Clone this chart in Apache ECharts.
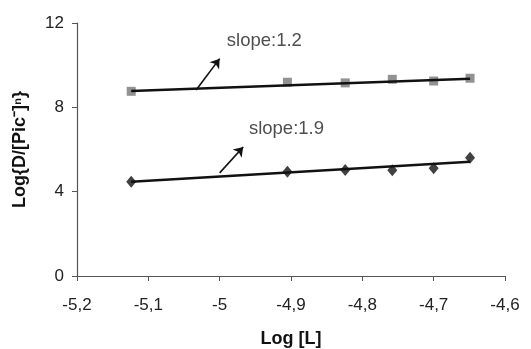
<!DOCTYPE html>
<html>
<head>
<meta charset="utf-8">
<script src="https://cdn.jsdelivr.net/npm/echarts@6/dist/echarts.min.js"></script>
<style>
  html, body { margin: 0; padding: 0; background: #fff; }
  #chart { width: 531px; height: 349px; }
</style>
</head>
<body>
<div id="chart"></div>
<script>
const logL = [-5.124, -4.905, -4.824, -4.758, -4.700, -4.649];
const squareValues = [8.76, 9.19, 9.16, 9.33, 9.25, 9.38];
const diamondValues = [4.47, 4.95, 5.03, 5.02, 5.11, 5.61];

const trendX = [-5.124, -4.649];
const trendTop = [8.78, 9.35];
const trendBottom = [4.47, 5.42];

// annotation arrows: [x0, y0, x1, y1]
const arrowTop = [-5.033, 8.82, -5.0, 10.31];
const arrowBottom = [-5.0, 4.89, -4.967, 6.12];
const slopeLabels = ["slope:1.2", "slope:1.9"];
const slopeLabelPos = [[-4.99, 11.15], [-4.959, 6.97]];

const pairs = (xs, ys) => xs.map((x, i) => [x, ys[i]]);
const fmtX = (v) => String(Math.round(v * 10) / 10).replace(".", ",");
const font = "Liberation Sans, Arial, sans-serif";

const chart = echarts.init(document.getElementById("chart"));

chart.setOption({
  backgroundColor: "#fff",
  animation: false,
  grid: { left: 77, right: 26, top: 23, bottom: 73, outerBoundsMode: "none", containLabel: false },
  xAxis: {
    type: "value",
    min: -5.2,
    max: -4.6,
    interval: 0.1,
    name: "Log [L]",
    nameLocation: "middle",
    nameGap: 54,
    nameTextStyle: { fontFamily: font, fontSize: 18, fontWeight: "bold", color: "#111" },
    axisLine: { onZero: false, lineStyle: { color: "#555", width: 1.2 } },
    axisTick: { show: true, length: 5, lineStyle: { color: "#555" } },
    axisLabel: { fontFamily: font, fontSize: 17, color: "#222", margin: 21, formatter: fmtX },
    splitLine: { show: false }
  },
  yAxis: {
    type: "value",
    min: 0,
    max: 12,
    interval: 4,
    name: "Log{D/[Pic\u207B]\u207F}",
    nameLocation: "middle",
    nameGap: 48,
    nameRotate: 90,
    nameTextStyle: { fontFamily: font, fontSize: 18, fontWeight: "bold", color: "#111" },
    axisLine: { show: true, lineStyle: { color: "#555", width: 1.2 } },
    axisTick: { show: true, length: 5, lineStyle: { color: "#555" } },
    axisLabel: { fontFamily: font, fontSize: 17, color: "#222", margin: 13 },
    splitLine: { show: false }
  },
  series: [
    {
      type: "scatter",
      data: pairs(logL, squareValues),
      symbol: "rect",
      symbolSize: 9,
      itemStyle: { color: "#777" },
      z: 2
    },
    {
      type: "scatter",
      data: pairs(logL, diamondValues),
      symbol: "diamond",
      symbolSize: [10, 12],
      itemStyle: { color: "#111" },
      z: 2
    },
    {
      type: "line",
      data: pairs(trendX, trendTop),
      showSymbol: false,
      lineStyle: { color: "#111", width: 2.5 },
      z: 3
    },
    {
      type: "line",
      data: pairs(trendX, trendBottom),
      showSymbol: false,
      lineStyle: { color: "#111", width: 2.5 },
      z: 3,
      markLine: {
        silent: true,
        symbol: ["none", "arrow"],
        symbolSize: 9,
        lineStyle: { color: "#111", width: 1.6, type: "solid" },
        label: { show: false },
        data: [arrowTop, arrowBottom].map((a) => [
          { coord: [a[0], a[1]] },
          { coord: [a[2], a[3]] }
        ])
      }
    },
    {
      type: "scatter",
      symbolSize: 0,
      data: slopeLabels.map((name, i) => ({ name, value: slopeLabelPos[i] })),
      label: {
        show: true,
        position: "inside",
        align: "left",
        formatter: (p) => p.name,
        fontFamily: font,
        fontSize: 18.5,
        color: "#222"
      },
      z: 4
    }
  ]
});
</script>
</body>
</html>
